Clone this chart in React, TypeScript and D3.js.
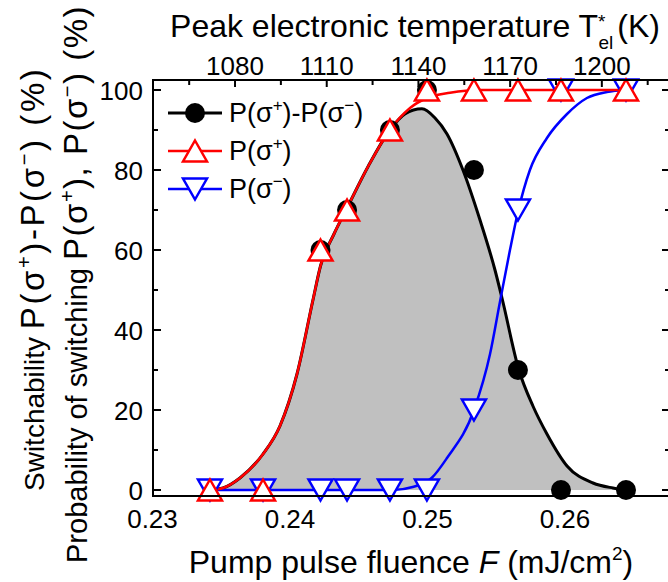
import React from "react";
import * as d3 from "d3";

// ---- measured data points ----
const fluence = [0.23418, 0.23804, 0.24222, 0.24415, 0.24727, 0.24996, 0.25338, 0.25658, 0.25971, 0.26444];
const probPlus = [0, 0, 60, 70, 90, 100, 100, 100, 100, 100];
const probMinus = [0, 0, 0, 0, 0, 0, 20, 70, 100, 100];
// switchability markers are shown only where they are visible in the figure
const switchFluence = [0.24222, 0.24415, 0.24727, 0.24996, 0.25338, 0.25658, 0.25971, 0.26444];
const switchability = [60, 70, 90, 100, 80, 30, 0, 0];

// ---- fitted curves ----
const redFitF = [0.23418, 0.23513, 0.23636, 0.23804, 0.23927, 0.24051, 0.24167, 0.24222, 0.2432, 0.24415, 0.2457, 0.24727, 0.24873, 0.24996, 0.25164, 0.25382, 0.2600, 0.26444];
const redFitV = [0, 0.5, 3, 9, 16, 29, 47.5, 56, 64, 70.5, 81, 90, 95.5, 98, 99.3, 100, 100, 100];

const blackFitF = [0.23418, 0.23513, 0.23636, 0.23804, 0.23927, 0.24051, 0.24167, 0.24222, 0.2432, 0.24415, 0.2457, 0.24727, 0.24836, 0.2496, 0.25055, 0.25142, 0.25258, 0.25382, 0.25491, 0.25542, 0.25665, 0.25767, 0.25869, 0.26015, 0.26204, 0.26349, 0.26444];
const blackFitV = [0, 0.5, 3, 9, 16, 29, 47.5, 56, 64, 70.5, 81, 90, 94, 95.3, 93, 89, 80, 67.5, 55, 48, 30, 21, 14, 6, 1.75, 0.5, 0];

const blueFitF = [0.23418, 0.2475, 0.2490, 0.2503, 0.25142, 0.25338, 0.25455, 0.25527, 0.256, 0.25658, 0.25745, 0.25869, 0.26015, 0.2616, 0.26305, 0.26444];
const blueFitV = [0, 0, 0.8, 3, 8, 20, 34, 47, 60, 69.5, 80, 88, 94, 98, 99.5, 100];

const bottomTicks = [0.23, 0.24, 0.25, 0.26];
const topMajorTicks = [1080, 1110, 1140, 1170, 1200];
const topMinorTicks = [1065, 1095, 1125, 1155, 1185, 1215];
const yMajorTicks = [0, 20, 40, 60, 80, 100];
const yMinorTicks = [10, 30, 50, 70, 90];

const FONT = "'Liberation Sans', Arial, Helvetica, sans-serif";

const W = 668;
const H = 582;
const left = 153;
const right = 670;
const top = 80;
const bottom = 496;

export default function App() {
  const x = d3.scaleLinear().domain([0.23, 0.26764]).range([152.5, 670]);
  const y = d3.scaleLinear().domain([0, 100]).range([490, 90]);
  const xTop = d3.scaleLinear().domain([1053.0, 1222.3]).range([152.5, 670]);

  const mk = (F: number[], V: number[]) => F.map((f, i) => [f, V[i]] as [number, number]);
  const line = d3
    .line<[number, number]>()
    .x((d) => x(d[0]))
    .y((d) => y(d[1]))
    .curve(d3.curveMonotoneX);
  const area = d3
    .area<[number, number]>()
    .x((d) => x(d[0]))
    .y0(y(0))
    .y1((d) => y(d[1]))
    .curve(d3.curveMonotoneX);

  const red = mk(redFitF, redFitV);
  const black = mk(blackFitF, blackFitV);
  const blue = mk(blueFitF, blueFitV);

  const triW = 24;
  const triH = 21;
  const upTri = (cx: number, cy: number) =>
    `M${cx},${cy - triH / 2} L${cx + triW / 2},${cy + triH / 2} L${cx - triW / 2},${cy + triH / 2} Z`;
  const downTri = (cx: number, cy: number) =>
    `M${cx},${cy + triH / 2} L${cx + triW / 2},${cy - triH / 2} L${cx - triW / 2},${cy - triH / 2} Z`;

  const legendRows = [
    { y: 113, kind: "circle" },
    { y: 151, kind: "up" },
    { y: 189, kind: "down" },
  ];

  const pPart1 = { fontSize: 33, letterSpacing: 2.6 } as const;
  const pPart2 = { fontSize: 33, letterSpacing: 1.5 } as const;

  return (
    <svg
      width={W}
      height={H}
      style={{ position: "absolute", left: 0, top: 0, background: "#fff" }}
      fontFamily={FONT}
    >
      <rect x={0} y={0} width={W} height={H} fill="#fff" />
      {/* filled area */}
      <path d={area(black) || ""} fill="#c0c0c0" stroke="none" />
      {/* fit lines */}
      <path d={line(black) || ""} fill="none" stroke="#000" strokeWidth={3} />
      <path d={line(blue) || ""} fill="none" stroke="#0000ff" strokeWidth={2.5} />
      <path d={line(red) || ""} fill="none" stroke="#ff0000" strokeWidth={2.5} />

      {/* markers */}
      {switchFluence.map((f, i) => (
        <circle key={"c" + i} cx={x(f)} cy={y(switchability[i])} r={10} fill="#000" />
      ))}
      {fluence.map((f, i) => (
        <path key={"b" + i} d={downTri(x(f), y(probMinus[i]))} fill="#fff" stroke="#0000ff" strokeWidth={2.5} />
      ))}
      {fluence.map((f, i) => (
        <path key={"r" + i} d={upTri(x(f), y(probPlus[i]))} fill="#fff" stroke="#ff0000" strokeWidth={2.5} />
      ))}

      {/* frame */}
      <rect x={left} y={top} width={right - left} height={bottom - top} fill="none" stroke="#000" strokeWidth={2} />

      {/* y ticks left/right */}
      {yMajorTicks.map((t) => (
        <g key={"ym" + t}>
          <line x1={left} x2={left + 8} y1={y(t)} y2={y(t)} stroke="#000" strokeWidth={2} />
          <line x1={right} x2={right - 8} y1={y(t)} y2={y(t)} stroke="#000" strokeWidth={2} />
          <text x={143} y={y(t) + 9.5} textAnchor="end" fontSize={26}>
            {t}
          </text>
        </g>
      ))}
      {yMinorTicks.map((t) => (
        <g key={"yn" + t}>
          <line x1={left} x2={left + 5} y1={y(t)} y2={y(t)} stroke="#000" strokeWidth={2} />
          <line x1={right} x2={right - 5} y1={y(t)} y2={y(t)} stroke="#000" strokeWidth={2} />
        </g>
      ))}

      {/* top ticks */}
      {topMajorTicks.map((t) => (
        <g key={"tm" + t}>
          <line x1={xTop(t)} x2={xTop(t)} y1={top} y2={top + 7} stroke="#000" strokeWidth={2} />
          <text x={xTop(t)} y={75} textAnchor="middle" fontSize={26}>
            {t}
          </text>
        </g>
      ))}
      {topMinorTicks.map((t) => (
        <line key={"tn" + t} x1={xTop(t)} x2={xTop(t)} y1={top} y2={top + 5} stroke="#000" strokeWidth={2} />
      ))}

      {/* bottom tick labels */}
      {bottomTicks.map((t) => (
        <text key={"bt" + t} x={x(t)} y={528} textAnchor="middle" fontSize={26}>
          {t.toFixed(2)}
        </text>
      ))}

      {/* axis titles */}
      <text x={411} y={573} textAnchor="middle" fontSize={32}>
        Pump pulse fluence <tspan fontStyle="italic">F</tspan> (mJ/cm
        <tspan dy={-13} fontSize={19}>2</tspan>
        <tspan dy={13}>)</tspan>
      </text>

      <text x={415} y={37} textAnchor="middle" fontSize={32}>
        Peak electronic temperature T
        <tspan dy={-9} fontSize={19}>*</tspan>
        <tspan dx={-7} dy={21} fontSize={19}>el</tspan>
        <tspan dx={4} dy={-12}>(K)</tspan>
      </text>

      <text transform={`translate(44,491) rotate(-90)`} textAnchor="start" fontSize={28}>
        Switchability{" "}
        <tspan {...pPart1}>P(σ</tspan>
        <tspan dy={-13} fontSize={20} letterSpacing={2.6}>+</tspan>
        <tspan dy={13} {...pPart1}>)-P(σ</tspan>
        <tspan dy={-13} fontSize={20} letterSpacing={2.6}>−</tspan>
        <tspan dy={13} {...pPart1}>) (%)</tspan>
      </text>
      <text transform={`translate(87,5) rotate(-90)`} textAnchor="end" fontSize={29}>
        Probability of switching{" "}
        <tspan {...pPart2}>P(σ</tspan>
        <tspan dy={-13} fontSize={20} letterSpacing={1.5}>+</tspan>
        <tspan dy={13} {...pPart2}>), P(σ</tspan>
        <tspan dy={-13} fontSize={20} letterSpacing={1.5}>−</tspan>
        <tspan dy={13} {...pPart2}>) (%)</tspan>
      </text>

      {/* legend */}
      {legendRows.map((r, i) => (
        <g key={"lg" + i}>
          <line
            x1={168}
            x2={222}
            y1={r.y}
            y2={r.y}
            stroke={r.kind === "circle" ? "#000" : r.kind === "up" ? "#ff0000" : "#0000ff"}
            strokeWidth={r.kind === "circle" ? 3 : 2.5}
          />
          {r.kind === "circle" && <circle cx={195} cy={r.y} r={10} fill="#000" />}
          {r.kind === "up" && <path d={upTri(195, r.y)} fill="#fff" stroke="#ff0000" strokeWidth={2.5} />}
          {r.kind === "down" && <path d={downTri(195, r.y)} fill="#fff" stroke="#0000ff" strokeWidth={2.5} />}
        </g>
      ))}
      <text x={229} y={122} fontSize={27}>
        P(σ<tspan dy={-11} fontSize={17}>+</tspan>
        <tspan dy={11}>)-P(σ</tspan>
        <tspan dy={-11} fontSize={17}>−</tspan>
        <tspan dy={11}>)</tspan>
      </text>
      <text x={229} y={160} fontSize={27}>
        P(σ<tspan dy={-11} fontSize={17}>+</tspan>
        <tspan dy={11}>)</tspan>
      </text>
      <text x={229} y={198} fontSize={27}>
        P(σ<tspan dy={-11} fontSize={17}>−</tspan>
        <tspan dy={11}>)</tspan>
      </text>
    </svg>
  );
}
